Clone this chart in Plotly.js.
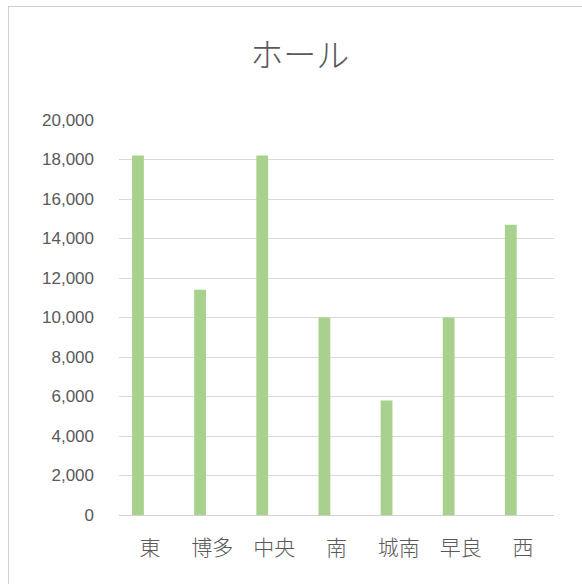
<!DOCTYPE html>
<html>
<head>
<meta charset="utf-8">
<script src="https://cdn.plot.ly/plotly-3.0.1.min.js"></script>
<style>
html,body{margin:0;padding:0;background:#fff;}
#wrap{position:relative;width:582px;height:584px;overflow:hidden;}
#chart{width:582px;height:584px;}
#frame{position:absolute;left:8px;top:6px;width:590px;height:600px;border:1px solid #d0d0d0;pointer-events:none;}
</style>
</head>
<body>
<div id="wrap"><div id="chart"></div><div id="frame"></div></div>
<script>
const categories = ["東", "博多", "中央", "南", "城南", "早良", "西"];
const values = [18200, 11400, 18200, 10000, 5800, 10000, 14700];
const yTickVals = [0, 2000, 4000, 6000, 8000, 10000, 12000, 14000, 16000, 18000, 20000];
const yTickText = ["0", "2,000", "4,000", "6,000", "8,000", "10,000", "12,000", "14,000", "16,000", "18,000", "20,000"];
const chartTitle = "ホール";

const txtColor = "#595959";
Plotly.newPlot("chart", [{
  type: "bar",
  x: categories,
  y: values,
  width: 0.19,
  offset: -0.29,
  marker: {color: "#a9d18e"},
  hoverinfo: "x+y"
}], {
  width: 582, height: 584,
  paper_bgcolor: "rgba(0,0,0,0)",
  plot_bgcolor: "rgba(0,0,0,0)",
  margin: {l: 119, r: 28, t: 120, b: 69},
  showlegend: false,
  title: {
    text: chartTitle,
    font: {family: "Noto Sans CJK JP, sans-serif", size: 33, color: txtColor, weight: 300},
    x: 0.515, xanchor: "center", y: 0.905, yanchor: "middle"
  },
  xaxis: {
    type: "category",
    range: [-0.5, 6.5],
    showgrid: false,
    showline: true, linecolor: "#d0d0d0", linewidth: 1,
    ticks: "",
    tickfont: {family: "Noto Sans CJK JP, sans-serif", size: 21, color: txtColor, weight: 300},
    ticklabelstandoff: 14,
    fixedrange: true
  },
  yaxis: {
    range: [0, 20000],
    tickvals: yTickVals,
    ticktext: yTickText,
    showgrid: true, gridcolor: "#d9d9d9", gridwidth: 1,
    zeroline: false,
    showline: false,
    ticks: "",
    tickfont: {family: "Liberation Sans, Arial, sans-serif", size: 17, color: txtColor},
    ticklabelstandoff: 24,
    fixedrange: true
  }
}, {displayModeBar: false, staticPlot: true});
</script>
</body>
</html>
